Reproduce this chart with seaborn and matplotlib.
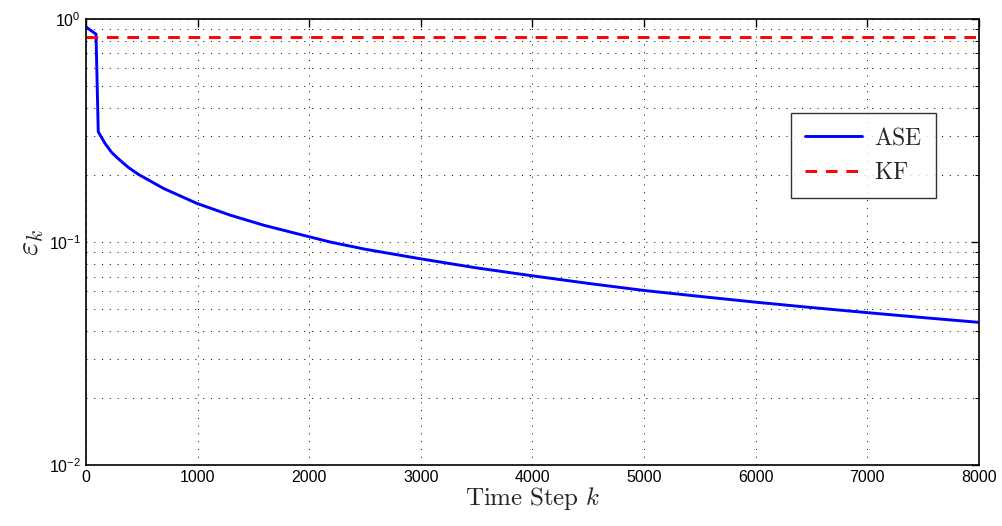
import numpy as np
import pandas as pd
import seaborn as sns
import matplotlib.pyplot as plt
from matplotlib.ticker import LogLocator, MultipleLocator, FixedLocator

# values
ase_step = [0, 90, 110, 170, 230, 290, 379, 469, 693, 992, 1290, 1589, 1888, 2186, 2500,
            3000, 3500, 4000, 4500, 5000, 5500, 6000, 6500, 7000, 7500, 8000]
ase_err = [0.92, 0.855, 0.312, 0.277, 0.252, 0.236, 0.216, 0.201, 0.174, 0.149, 0.132,
           0.119, 0.109, 0.100, 0.0928, 0.084, 0.0765, 0.0705, 0.0652, 0.0606, 0.057,
           0.0537, 0.0508, 0.0482, 0.0458, 0.0436]
kf_step = [0, 8000]
kf_err = [0.83, 0.83]

ase = pd.DataFrame({"k": ase_step, "err": ase_err, "method": "ASE"})
kf = pd.DataFrame({"k": kf_step, "err": kf_err, "method": "KF"})

sns.set_style("white")
plt.rcParams["font.family"] = ["Liberation Sans", "DejaVu Sans"]
plt.rcParams["mathtext.fontset"] = "custom"
plt.rcParams["mathtext.rm"] = "Liberation Sans"
plt.rcParams["mathtext.it"] = "Liberation Sans:italic"

fig = plt.figure(figsize=(10.02, 5.26), dpi=100)
ax = fig.add_axes([0.0858, 0.116, 0.8912, 0.848])

sns.lineplot(data=ase, x="k", y="err", color="#0000ff", lw=2.1, ax=ax,
             label=r"$\mathrm{ASE}$")
sns.lineplot(data=kf, x="k", y="err", color="#ff0000", lw=2.1, ax=ax,
             label=r"$\mathrm{KF}$", dashes=False)
ax.lines[-1].set_dashes([4, 3])

ax.set_yscale("log")
ax.set_xlim(0, 8000)
ax.set_ylim(1e-2, 1e0)
ax.xaxis.set_major_locator(MultipleLocator(1000))
ax.yaxis.set_major_locator(FixedLocator([1e-2, 1e-1, 1e0]))
ax.yaxis.set_minor_locator(LogLocator(base=10, subs=np.arange(2, 10)))

grid_style = dict(color="black", linestyle=(0, (1, 7)), lw=0.7)
ax.grid(True, which="major", axis="both", **grid_style)
ax.grid(True, which="minor", axis="y", **grid_style)

ax.tick_params(which="both", direction="in", top=True, right=True, labelsize=11.5,
               colors="black")
ax.tick_params(which="major", length=6, width=1)
ax.tick_params(which="minor", length=3, width=0.8)
for s in ax.spines.values():
    s.set_color("black")
    s.set_linewidth(1.2)

xl = ax.set_xlabel(r"$\mathrm{Time\ Step}\ k$", fontsize=18, labelpad=0)
yl = ax.set_ylabel(r"$\varepsilon_k$", fontsize=22, labelpad=2)
xl.set_math_fontfamily("cm")
yl.set_math_fontfamily("cm")

leg = ax.legend(loc="upper right", bbox_to_anchor=(0.952, 0.789), borderaxespad=0,
                fontsize=17, frameon=True, fancybox=False, edgecolor="black",
                handlelength=2.4, borderpad=0.6, labelspacing=0.55, handletextpad=0.5)
leg.get_frame().set_linewidth(1.0)
for t in leg.get_texts():
    t.set_math_fontfamily("cm")

fig.savefig("out.png", dpi=100)
